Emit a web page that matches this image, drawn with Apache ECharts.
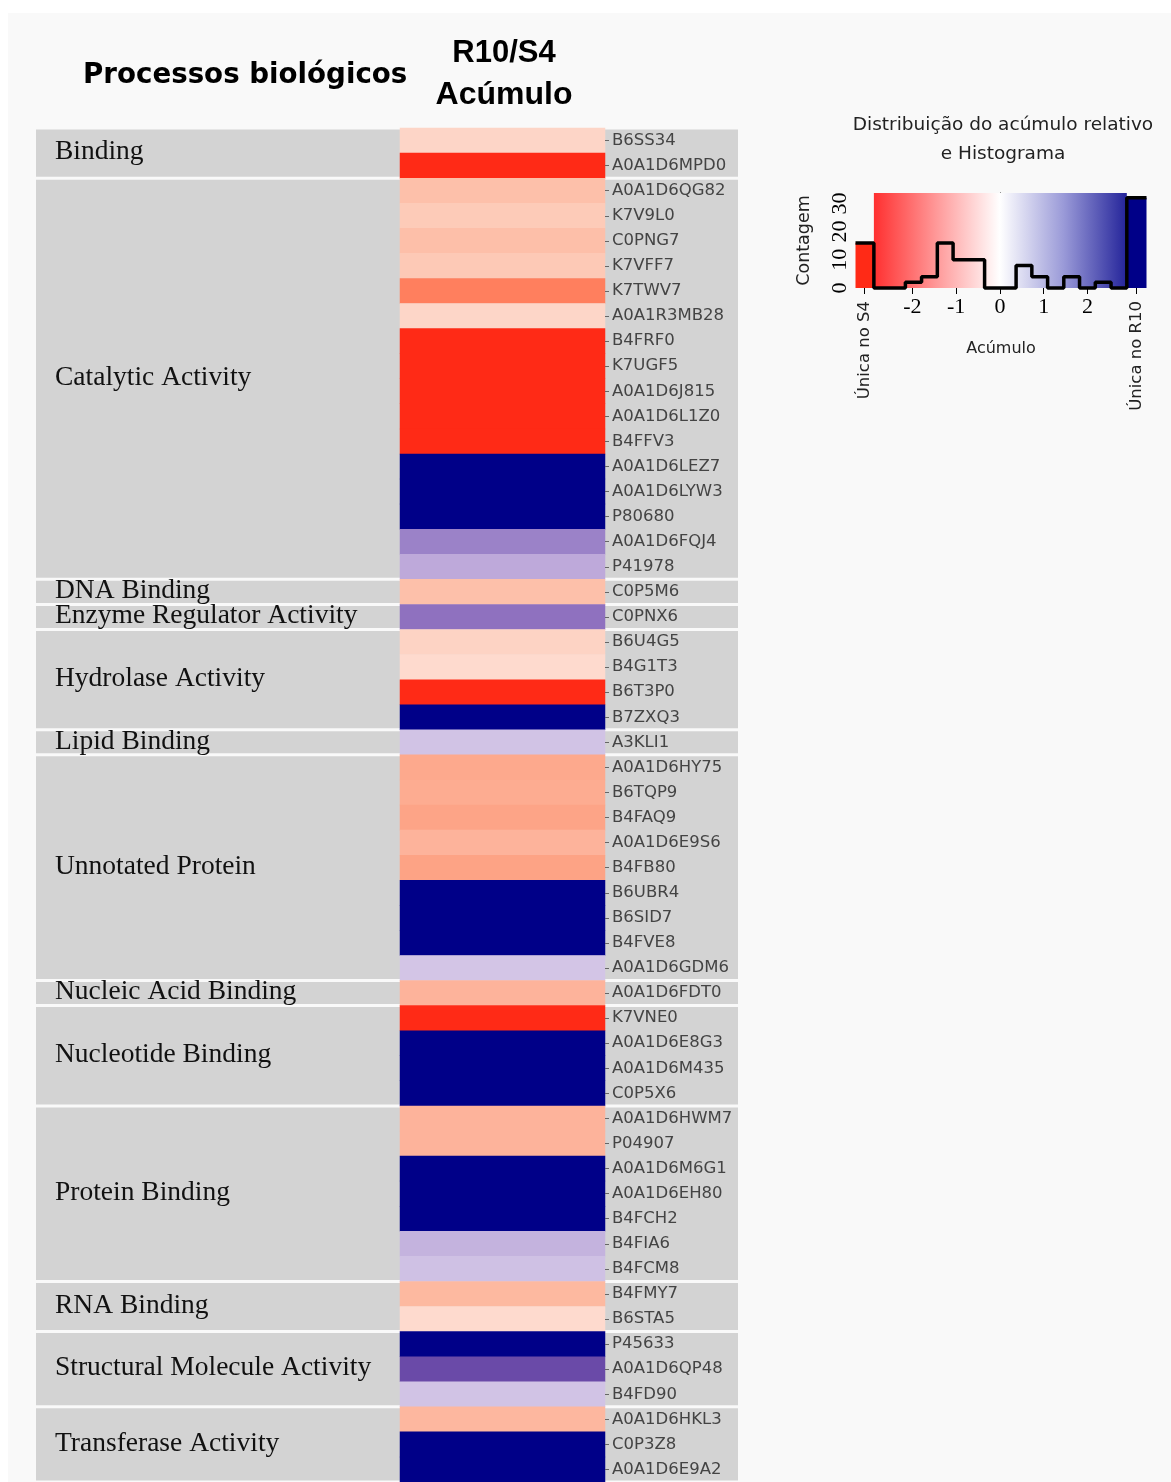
<!DOCTYPE html>
<html><head><meta charset="utf-8">
<script src="https://cdn.jsdelivr.net/npm/echarts@6/dist/echarts.min.js"></script>
<style>html,body{margin:0;padding:0;background:#fff}#c{width:1171px;height:1482px}</style>
</head><body><div id="c"></div>
<script>
// ---------------- DATA ----------------
const S4 = -3;   // "Única no S4"
const R10 = 3;   // "Única no R10"
const proteins = ['B6SS34','A0A1D6MPD0','A0A1D6QG82','K7V9L0','C0PNG7','K7VFF7','K7TWV7','A0A1R3MB28','B4FRF0','K7UGF5','A0A1D6J815','A0A1D6L1Z0','B4FFV3','A0A1D6LEZ7','A0A1D6LYW3','P80680','A0A1D6FQJ4','P41978','C0P5M6','C0PNX6','B6U4G5','B4G1T3','B6T3P0','B7ZXQ3','A3KLI1','A0A1D6HY75','B6TQP9','B4FAQ9','A0A1D6E9S6','B4FB80','B6UBR4','B6SID7','B4FVE8','A0A1D6GDM6','A0A1D6FDT0','K7VNE0','A0A1D6E8G3','A0A1D6M435','C0P5X6','A0A1D6HWM7','P04907','A0A1D6M6G1','A0A1D6EH80','B4FCH2','B4FIA6','B4FCM8','B4FMY7','B6STA5','P45633','A0A1D6QP48','B4FD90','A0A1D6HKL3','C0P3Z8','A0A1D6E9A2'];
const values = [
  -0.50, S4, -0.98, -0.78, -1.00, -0.82, -2.00, -0.48, S4, S4, S4, S4, S4, R10, R10, R10, 1.60, 1.00,
  -0.98, 1.75, -0.55, -0.40, S4, R10, 0.55,
  -1.38, -1.32, -1.50, -1.20, -1.52, R10, R10, R10, 0.50,
  -1.20, S4, R10, R10, R10,
  -1.20, -1.20, R10, R10, R10, 0.90, 0.60,
  -1.10, -0.40, R10, 2.40, 0.55, -1.13, R10, R10];
const groupNames = ['Binding','Catalytic Activity','DNA Binding','Enzyme Regulator Activity','Hydrolase Activity','Lipid Binding','Unnotated Protein','Nucleic Acid Binding','Nucleotide Binding','Protein Binding','RNA Binding','Structural Molecule Activity','Transferase Activity'];
const groupSizes = [2, 16, 1, 1, 4, 1, 9, 1, 4, 7, 2, 3, 3];
const columnName = 'R10/S4';

// histogram (legend)
const histEdges = [-2.88,-2.52,-2.16,-1.79,-1.43,-1.07,-0.71,-0.35,0.01,0.37,0.73,1.09,1.46,1.82,2.18,2.54,2.90];
const histCounts = [0,0,2,4,16,10,10,0,0,8,4,0,4,0,2,0];
const uniqueS4Count = 16;
const uniqueR10Count = 32;
const histTicks = [-2,-1,0,1,2];
const countTicks = [0,10,20,30];
const uniqueLabels = ['Única no S4','Única no R10'];
const histMin = -3.3, histMax = 3.35, countMax = 33.7;

// ---------------- STYLE ----------------
const rampStops = [[-3,'#ff2a16'],[-2.9,'#ff3a26'],[-2,'#ff7f5e'],[-1.5,'#fda487'],[-1.35,'#fdaa8e'],[-1.2,'#fdb39b'],[-1.1,'#fdb9a0'],[-1.0,'#fdbfa9'],[-0.8,'#fdcab7'],[-0.5,'#fdd5c7'],[-0.4,'#fedace'],[0,'#ffffff'],[0.5,'#d3c5e6'],[0.9,'#c4b3de'],[1.0,'#bea9da'],[1.6,'#9b82c8'],[1.75,'#8f71bf'],[2.4,'#6a4aa8'],[2.9,'#3a2a98'],[3,'#000088']];
function h2r(h){return [parseInt(h.slice(1,3),16),parseInt(h.slice(3,5),16),parseInt(h.slice(5,7),16)];}
function rampAt(v){
  for(let i=0;i<rampStops.length-1;i++){
    const a=rampStops[i],b=rampStops[i+1];
    if(v>=a[0]-1e-9 && v<=b[0]+1e-9){
      const t=(v-a[0])/(b[0]-a[0]); const ca=h2r(a[1]), cb=h2r(b[1]);
      return 'rgb('+ca.map((c,k)=>Math.round(c+(cb[k]-c)*t)).join(',')+')';
    }
  }
  return rampStops[rampStops.length-1][1];
}
const vmColors=[]; for(let i=0;i<=600;i++) vmColors.push(rampAt(-3+i*0.01));

const TOP = 128, ROWH = 25.09, H = ROWH*proteins.length;

// group ranges
const groupData = []; let start = 0;
groupSizes.forEach((n,i)=>{ groupData.push([start, start+n-1, groupNames[i]]); start += n; });

const heatData = values.map((v,i)=>[0,i,v]);

const stepData = [[histMin, uniqueS4Count]];
histCounts.forEach((c,i)=>stepData.push([histEdges[i], c]));
stepData.push([histEdges[histEdges.length-1], uniqueR10Count]);
stepData.push([histMax, uniqueR10Count]);

const uniqueBars = [[histMin, histEdges[0], uniqueS4Count, '#ff2a16'], [histEdges[histEdges.length-1], histMax, uniqueR10Count, '#000088']];
const uniqueTickPos = [(histMin+histEdges[0])/2, (histEdges[histEdges.length-1]+histMax)/2];

const chart = echarts.init(document.getElementById('c'), null, {renderer:'canvas'});
const option = {
  backgroundColor:'#ffffff',
  animation:false,
  graphic:[
    {type:'rect', z:-100, shape:{x:8,y:13,width:1163,height:1469}, style:{fill:'#f9f9f9'}},
    {type:'text', x:83, y:76, style:{text:'Processos biológicos', fontFamily:'DejaVu Sans', fontWeight:'bold', fontSize:27.7, fill:'#000', verticalAlign:'middle', align:'left'}},
    {type:'text', x:504, y:53, style:{text:columnName, fontFamily:'Liberation Sans', fontWeight:'bold', fontSize:31, fill:'#000', verticalAlign:'middle', align:'center'}},
    {type:'text', x:504, y:95, style:{text:'Acúmulo', fontFamily:'Liberation Sans', fontWeight:'bold', fontSize:32, fill:'#000', verticalAlign:'middle', align:'center'}},
    {type:'text', x:1003, y:111, style:{text:'Distribuição do acúmulo relativo\ne Histograma', fontFamily:'DejaVu Sans', fontSize:18.5, lineHeight:29, fill:'#222', verticalAlign:'top', align:'center'}}
  ],
  visualMap:{type:'continuous', show:false, min:-3, max:3, seriesIndex:1, dimension:2, inRange:{color:vmColors}},
  grid:[
    {left:36, top:TOP, width:702, height:H},
    {left:400, top:TOP, width:205, height:H},
    {left:855.5, top:193, width:291, height:95},
    {left:855.5, top:193, width:291, height:95}
  ],
  xAxis:[
    {type:'category', gridIndex:0, data:[columnName], show:false},
    {type:'category', gridIndex:1, data:[columnName], show:false},
    {type:'value', gridIndex:2, min:histMin, max:histMax, splitLine:{show:false}, axisLine:{show:false},
     axisTick:{show:true, customValues:histTicks, length:6, lineStyle:{color:'#000', width:1}},
     axisLabel:{customValues:histTicks, fontFamily:'Liberation Serif', fontSize:22, color:'#000', margin:8},
     name:'Acúmulo', nameLocation:'middle', nameGap:53, nameTextStyle:{fontFamily:'DejaVu Sans', fontSize:16, color:'#222'}},
    {type:'value', gridIndex:3, min:histMin, max:histMax, splitLine:{show:false}, axisLine:{show:false},
     axisTick:{show:true, customValues:uniqueTickPos, length:6, lineStyle:{color:'#000', width:1}},
     axisLabel:{customValues:uniqueTickPos, rotate:90, fontFamily:'DejaVu Sans', fontSize:16.5, color:'#222', margin:13,
       formatter:(v)=> v<0 ? uniqueLabels[0] : uniqueLabels[1]}}
  ],
  yAxis:[
    {type:'category', gridIndex:0, data:proteins, inverse:true, show:false},
    {type:'category', gridIndex:1, data:proteins, inverse:true, position:'right', z:20,
     axisLine:{show:false}, axisTick:{show:true, length:4, alignWithLabel:true, lineStyle:{color:'#666'}},
     axisLabel:{fontFamily:'DejaVu Sans', fontSize:16.5, color:'#444', margin:7, interval:0}},
    {type:'value', gridIndex:2, min:0, max:countMax, splitLine:{show:false},
     axisLine:{show:true, lineStyle:{color:'#000', width:1}},
     axisTick:{show:true, customValues:countTicks, length:5, lineStyle:{color:'#000'}},
     axisLabel:{customValues:countTicks, rotate:90, fontFamily:'Liberation Serif', fontSize:22, color:'#000', margin:4},
     name:'Contagem', nameLocation:'middle', nameRotate:90, nameGap:42, nameTextStyle:{fontFamily:'DejaVu Sans', fontSize:17.5, color:'#222'}},
    {type:'value', gridIndex:3, min:0, max:countMax, show:false}
  ],
  series:[
    {type:'custom', xAxisIndex:0, yAxisIndex:0, z:1, data:groupData, silent:true,
     renderItem:(params, api)=>{
       const s = api.value(0), e = api.value(1);
       const bh = api.size([0,1])[1];
       const y0 = api.coord([0, s])[1] - bh/2, y1 = api.coord([0, e])[1] + bh/2;
       const cs = params.coordSys;
       return {type:'group', children:[
         {type:'rect', shape:{x:cs.x, y:y0+1.5, width:cs.width, height:y1-y0-3}, style:{fill:'#d3d3d3'}},
         {type:'text', x:cs.x+19, y:(y0+y1)/2-1, style:{text:groupData[params.dataIndex][2], fontFamily:'Liberation Serif', fontSize:27.5, fill:'#111', verticalAlign:'middle', align:'left'}}
       ]};
     }},
    {type:'heatmap', xAxisIndex:1, yAxisIndex:1, z:3, data:heatData, itemStyle:{borderWidth:0}, emphasis:{disabled:true}},
    {type:'custom', xAxisIndex:2, yAxisIndex:2, z:2, silent:true, data:[[histEdges[0], histEdges[histEdges.length-1]]],
     renderItem:(params, api)=>{
       const p0 = api.coord([api.value(0), countMax]), p1 = api.coord([api.value(1), 0]);
       return {type:'rect', shape:{x:p0[0], y:p0[1], width:p1[0]-p0[0], height:p1[1]-p0[1]},
         style:{fill:new echarts.graphic.LinearGradient(0,0,1,0,[{offset:0,color:'#ff3030'},{offset:0.25,color:'#ff9a9a'},{offset:0.498,color:'#ffffff'},{offset:0.75,color:'#9a9ad8'},{offset:1,color:'#24249a'}])}};
     }},
    {type:'custom', xAxisIndex:2, yAxisIndex:2, z:3, silent:true, data:uniqueBars,
     renderItem:(params, api)=>{
       const p0 = api.coord([api.value(0), api.value(2)]), p1 = api.coord([api.value(1), 0]);
       return {type:'rect', shape:{x:p0[0], y:p0[1], width:p1[0]-p0[0], height:p1[1]-p0[1]}, style:{fill:uniqueBars[params.dataIndex][3]}};
     }},
    {type:'line', xAxisIndex:2, yAxisIndex:2, z:4, step:'end', data:stepData, symbol:'none', clip:false, silent:true,
     lineStyle:{color:'#000', width:3.5}}
  ]
};
chart.setOption(option);
</script></body></html>
